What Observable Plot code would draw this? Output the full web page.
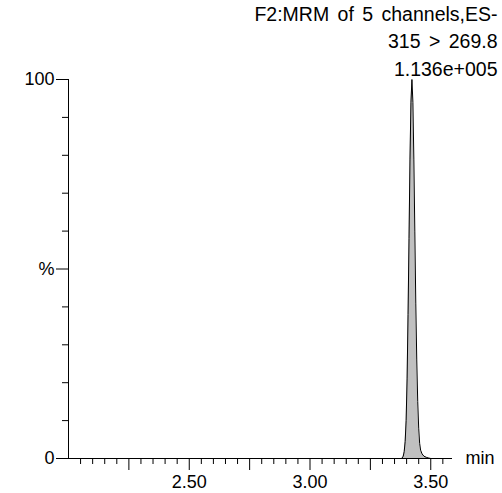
<!DOCTYPE html>
<html><head><meta charset="utf-8">
<script src="https://cdn.jsdelivr.net/npm/d3@7"></script>
<script src="https://cdn.jsdelivr.net/npm/@observablehq/plot@0.6"></script>
<style>
html,body{margin:0;padding:0;background:#fff;}
#chart svg{display:block;}
#chart svg text{word-spacing:3px;}
</style></head><body><div id="chart"></div>
<script>
const headerLines = ["F2:MRM of 5 channels,ES-", "315 > 269.8", "1.136e+005"];
const timeMin = [3.380, 3.386, 3.390, 3.394, 3.398, 3.402, 3.406, 3.410, 3.414, 3.418, 3.422, 3.426, 3.430, 3.434, 3.438, 3.442, 3.446, 3.450, 3.454, 3.458, 3.464, 3.472, 3.482, 3.492, 3.500];
const intensityPct = [0, 0.6, 1.8, 4.5, 10, 21, 38, 58, 79, 94, 100, 94, 79, 60, 41, 26, 15, 8, 4, 2.2, 1.2, 0.6, 0.3, 0.1, 0];
const xDomain = [2.0, 3.59];
const yDomain = [0, 100];
const xMinorTicks = [2.05, 2.10, 2.15, 2.20, 2.30, 2.35, 2.40, 2.45, 2.55, 2.60, 2.65, 2.70, 2.80, 2.85, 2.90, 2.95, 3.05, 3.10, 3.15, 3.20, 3.30, 3.35, 3.40, 3.45, 3.55];
const xMajorTicks = [2.25, 2.50, 2.75, 3.00, 3.25, 3.50];
const xLabelTicks = [2.50, 3.00, 3.50];
const xLabels = ["2.50", "3.00", "3.50"];
const yMinorTicks = [10, 20, 30, 40, 60, 70, 80, 90];
const yMajorTicks = [0, 50, 100];
const yLabels = ["0", "%", "100"];
const xUnit = "min";

const data = timeMin.map((t, i) => ({t, v: intensityPct[i]}));

const plot = Plot.plot({
  width: 502, height: 493,
  marginLeft: 68, marginRight: 50, marginTop: 79, marginBottom: 35,
  x: {domain: xDomain, axis: null},
  y: {domain: yDomain, axis: null},
  style: {fontFamily: "'Liberation Sans', Arial, sans-serif", fontSize: "18px", color: "#000", background: "#fff", overflow: "visible"},
  marks: [
    Plot.areaY(data, {x: "t", y: "v", fill: "#c0c0c0"}),
    Plot.lineY(data, {x: "t", y: "v", stroke: "#000", strokeWidth: 1}),
    Plot.ruleY([0], {stroke: "#000"}),
    Plot.ruleX([xDomain[0]], {stroke: "#000"}),
    Plot.axisX(xMinorTicks, {tickSize: 6, label: null, tickFormat: () => ""}),
    Plot.axisX(xMajorTicks, {tickSize: 12, label: null, tickFormat: () => ""}),
    Plot.axisX(xLabelTicks, {tickSize: 0, tickPadding: 17, label: null, fontSize: 18, tickFormat: d => xLabels[xLabelTicks.indexOf(d)]}),
    Plot.axisY(yMinorTicks, {tickSize: 6, label: null, tickFormat: () => ""}),
    Plot.axisY(yMajorTicks, {tickSize: 12, tickPadding: 2, label: null, fontSize: 18, tickFormat: d => yLabels[yMajorTicks.indexOf(d)]}),
    Plot.text([xUnit], {frameAnchor: "bottom-right", textAnchor: "start", lineAnchor: "middle", dx: 13, fontSize: 18}),
    Plot.text([headerLines.join("\n")], {frameAnchor: "top-right", textAnchor: "end", lineAnchor: "bottom", dx: 45, dy: -4, lineHeight: 1.4, fontSize: 19.5})
  ]
});
document.getElementById("chart").appendChild(plot);
</script>
</body></html>
